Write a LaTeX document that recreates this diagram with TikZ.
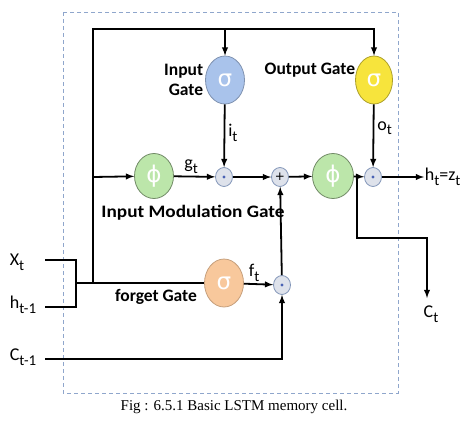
\documentclass[tikz,border=0pt]{standalone}
\usepackage{fontspec}
\setmainfont{Carlito}
\newfontfamily\capfont{Liberation Serif}
\newfontfamily\symfont{DejaVu Sans}
\usetikzlibrary{
  positioning,
  arrows,
  shapes.geometric
}
\definecolor{boxblue}{HTML}{8FA6CC}
\definecolor{sigblue}{HTML}{A9C3EB}
\definecolor{sigyellow}{HTML}{F7E43C}
\definecolor{phigreen}{HTML}{BCE6AA}
\definecolor{sigorange}{HTML}{F8C89C}
\definecolor{opgrey}{HTML}{DEE2EB}
\definecolor{dotblue}{HTML}{4A62B4}
\newcommand{\subs}[1]{\raisebox{-0.55ex}{\fontsize{15}{15}\selectfont #1}}

\begin{document}
\begin{tikzpicture}[
    x=1pt, y=-1pt, >=latex, line width=1.8pt,
    gate/.style={
      ellipse,
      minimum width=39pt,
      minimum height=48pt,
      inner sep=0pt,
      line width=0.8pt,
      text=white,
      font=\symfont\fontsize{23}{23}\selectfont
    },
    op/.style={
      ellipse,
      minimum width=17pt,
      minimum height=19pt,
      inner sep=0pt,
      draw=boxblue!90!black,
      fill=opgrey,
      line width=0.8pt,
      font=\symfont\fontsize{12}{12}\selectfont
    },
    mult/.style={
      op,
      path picture={\fill[dotblue] (path picture bounding box.center) circle (1.6pt);}
    },
    gatename/.style={
      font=\bfseries\fontsize{17.5}{20}\selectfont,
      inner sep=0pt
    },
    sig/.style={
      font=\fontsize{18}{18}\selectfont,
      inner sep=0pt
    }
  ]
  \useasboundingbox (0,0) rectangle (473,426);

  % cell border
  \draw[boxblue, line width=0.9pt, dash pattern=on 4pt off 3pt] (63,12) rectangle (398,393);

  % gates
  \node[gate, draw=sigblue!75!black, fill=sigblue] (ig) at (225,80) {σ};
  \node[gate, draw=sigyellow!70!black, fill=sigyellow, minimum width=37pt] (og) at (374,80) {σ};
  \node[gate, draw=phigreen!60!black, fill=phigreen, minimum height=45pt] (img) at (154,176) {ϕ};
  \node[gate, draw=phigreen!60!black, fill=phigreen, minimum width=41pt, minimum height=45pt] (cp) at (333,176) {ϕ};
  \node[gate, draw=sigorange!80!black, fill=sigorange] (fg) at (224,283) {σ};

  % pointwise operations
  \node[mult] (mi) at (224,177) {};
  \node[op] (add) at (280,177) {+};
  \node[mult] (mo) at (373,177) {};
  \node[mult] (mf) at (282,285) {};

  % inputs and outputs
  \node[sig, anchor=west] (xt) at (9,262) {X\subs{t}};
  \node[sig, anchor=west] (hp) at (9,305) {h\subs{t-1}};
  \node[sig, anchor=west] (cp1) at (9,357) {C\subs{t-1}};
  \node[sig, anchor=west] (ht) at (424,177) {h\subs{t}=z\subs{t}};
  \node[sig] (ct) at (431,314) {C\subs{t}};

  \coordinate (xin) at (45,260);
  \coordinate (hin) at (45,307);
  \coordinate (cin) at (45,359);
  \coordinate (join) at (76,283);
  \coordinate (bus) at (93,283);
  \coordinate (top) at (93,29);
  \coordinate (cout) at (427,298);

  % concatenation of x and h
  \draw (xin) -- (76,260) -- (76,307) -- (hin);
  \draw (join) -- (fg);
  \draw[->] (bus) -- (top) -| (og);
  \draw[->] (225,29) -- (ig);
  \draw[->] (93,177) -- (img);

  % cell state path
  \draw[->] (img) -- (mi) node[sig, pos=0.42, above=2pt] {g\subs{t}};
  \draw[->] (ig) -- (mi) node[sig, pos=0.45, right=3pt] {i\subs{t}};
  \draw[->] (mi) -- (add);
  \draw[->] (add) -- (cp);
  \draw[->] (cp) -- (mo);
  \draw[->] (og) -- (mo) node[sig, pos=0.38, right=3pt] {o\subs{t}};
  \draw[->] (mo) -- (ht);
  \draw[->] (357,177) -- (357,238) -| (cout);
  \draw[->] (fg) -- (mf) node[sig, pos=0.35, above=2pt] {f\subs{t}};
  \draw[->] (cin) -| (mf);
  \draw[->] (mf) -- (add);

  % gate names
  \node[gatename, align=right, anchor=east] at (204,80) {Input\\Gate};
  \node[gatename, anchor=east] at (356,70) {Output Gate};
  \node[gatename] at (193,213) {\scalebox{1.1}[1]{Input Modulation Gate}};
  \node[gatename] at (156,297) {forget Gate};

  % caption
  \node[font=\capfont\fontsize{15}{15}\selectfont] at (234,407) {Fig : 6.5.1 Basic LSTM memory cell.};

\end{tikzpicture}
\end{document}
